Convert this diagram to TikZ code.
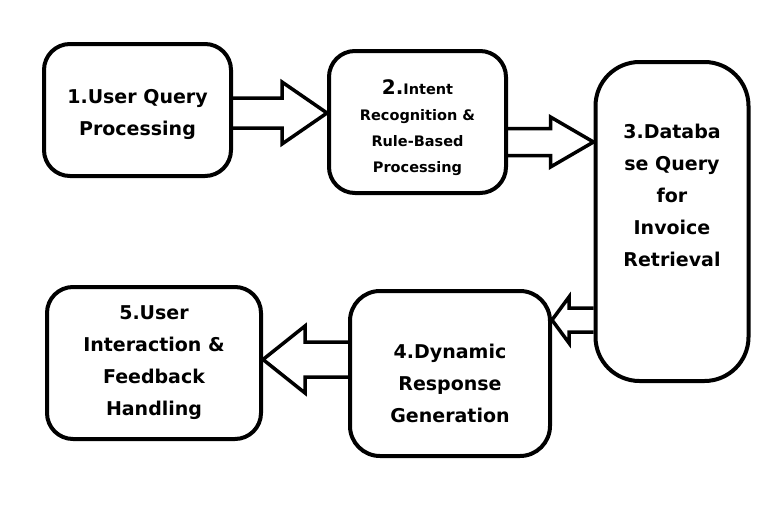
\documentclass[tikz,border=0pt]{standalone}
\usepackage{fontspec}
\setmainfont{DejaVu Sans}
\usetikzlibrary{calc, positioning}

\tikzset{
  box/.style={draw, rectangle, rounded corners=26pt, line width=4pt, align=center,
    font=\fontsize{19}{32}\selectfont\bfseries},
  fat/.style={line width=3.5pt, line join=miter}
}

% block arrow: start, end, body half width, head half width, head length
\newcommand{\fatarrow}[5]{%
  \coordinate (h) at ($(#2)!#5!(#1)$);
  \draw[fat] ($(#1)!#3!90:(#2)$) -- ($(h)!#3!90:(#2)$) -- ($(h)!#4!90:(#2)$) -- (#2)
    -- ($(h)!#4!-90:(#2)$) -- ($(h)!#3!-90:(#2)$) -- ($(#1)!#3!-90:(#2)$);
}

\begin{document}
\begin{tikzpicture}[x=1pt, y=-1pt]
            \useasboundingbox (0,0) rectangle (784,506);

            \node[box, minimum width=187pt, minimum height=132pt,
                text height=56pt] (q) at (137.5,110) {
                1.User Query \\
                Processing
            };
            \node[box, minimum width=177pt, minimum height=142pt, text height=104pt,
                font=\fontsize{14.5}{26}\selectfont\bfseries] (i) at (417.5,122) {
                {\fontsize{20}{26}\selectfont 2.}Intent \\
                Recognition \& \\
                Rule-Based \\
                Processing
            };
            \node[box, rounded corners=44pt, minimum width=153pt, minimum height=319pt,
                text depth=52pt] (d) at (672,221.5) {
                3.Databa \\
                se Query \\
                for \\
                Invoice \\
                Retrieval
            };
            \node[box, rounded corners=30pt, minimum width=200pt, minimum height=165pt,
                text height=98pt] (r) at (450,373.5) {
                4.Dynamic \\
                Response \\
                Generation
            };
            \node[box, minimum width=214pt, minimum height=152pt] (f) at (154,363) {
                5.User \\
                Interaction \& \\
                Feedback \\
                Handling
            };

            \coordinate (a1) at ([yshift=-3pt]q.east);
            \coordinate (a2) at ([yshift=-20pt]i.east);
            \coordinate (a3) at ([yshift=-98.5pt]d.west);
            \coordinate (a4) at ([yshift=14pt]r.west);

            \fatarrow{a1}{i.west |- a1}{15pt}{31pt}{45pt}
            \fatarrow{a2}{d.west |- a2}{13.5pt}{25pt}{43pt}
            \fatarrow{a3}{r.east |- a3}{12pt}{23pt}{17pt}
            \fatarrow{a4}{f.east |- a4}{17.5pt}{33.5pt}{42pt}
        \end{tikzpicture}
\end{document}
